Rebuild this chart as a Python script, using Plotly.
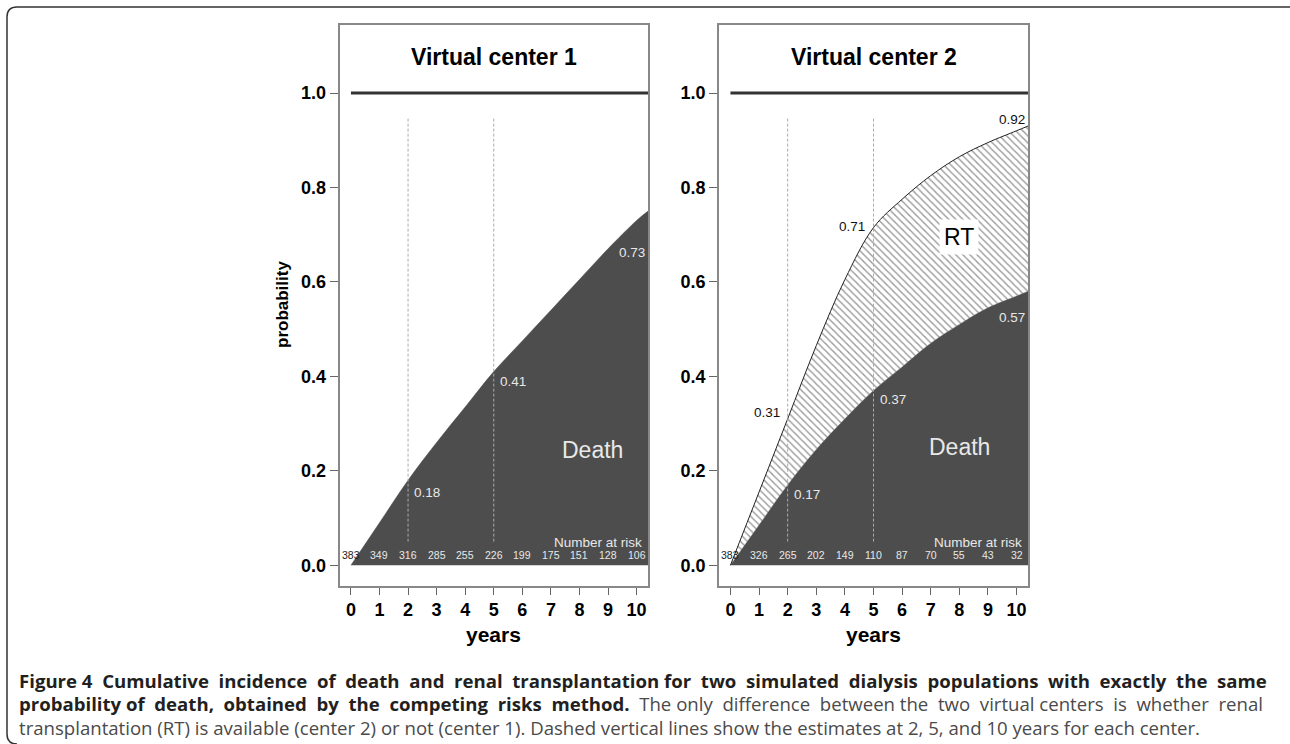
import plotly.graph_objects as go

# ---------------- data ----------------
years = [0, 1, 2, 3, 4, 5, 6, 7, 8, 9, 10, 10.4]
c1_death = [0, 0.09, 0.18, 0.26, 0.335, 0.41, 0.475, 0.54, 0.605, 0.67, 0.73, 0.75]
c2_death = [0, 0.085, 0.17, 0.245, 0.31, 0.37, 0.42, 0.47, 0.51, 0.545, 0.57, 0.58]
c2_death_rt = [0, 0.155, 0.31, 0.465, 0.605, 0.715, 0.775, 0.825, 0.865, 0.895, 0.92, 0.93]

risk_years = [0, 1, 2, 3, 4, 5, 6, 7, 8, 9, 10]
c1_risk = [383, 349, 316, 285, 255, 226, 199, 175, 151, 128, 106]
c2_risk = [383, 326, 265, 202, 149, 110, 87, 70, 55, 43, 32]

est_years = [2, 5, 10]
c1_est = [0.18, 0.41, 0.73]
c2_est_death = [0.17, 0.37, 0.57]
c2_est_total = [0.31, 0.71, 0.92]

x_ticks = list(range(11))
y_ticks = [0.0, 0.2, 0.4, 0.6, 0.8, 1.0]

titles = ["Virtual center 1", "Virtual center 2"]

caption1 = "Figure 4 Cumulative incidence of death and renal transplantation for two simulated dialysis populations with exactly the same"
caption2b = "probability of death, obtained by the competing risks method."
caption2r = "The only difference between the two virtual centers is whether renal"
caption3 = "transplantation (RT) is available (center 2) or not (center 1). Dashed vertical lines show the estimates at 2, 5, and 10 years for each center."

# ---------------- styling ----------------
W, H = 1290, 744
FONT = "Liberation Sans, Arial, Helvetica, sans-serif"
DARK = "#4d4d4d"
LIGHT = "#e8e8e8"


def px_x(p):
    return p / W


def px_y(p):
    return 1 - p / H


def justify(text, n_extra):
    """widen word gaps (evenly spread) with an extra no-break space to mimic justified text"""
    words = text.split(" ")
    n = len(words) - 1
    out = words[0]
    for k, w in enumerate(words[1:]):
        wide = (k + 1) * n_extra // n > k * n_extra // n
        out += (" \u00a0" if wide else " ") + w
    return out


xdom1 = [px_x(339.5), px_x(648)]
xdom2 = [px_x(719), px_x(1028)]
ydom = [px_y(586), px_y(25)]
XR = [-0.4, 10.4]
YR = [-0.044, 1.144]

fig = go.Figure()

# left panel
fig.add_trace(go.Scatter(x=years, y=c1_death, mode="lines", fill="tozeroy",
                         fillcolor=DARK, line=dict(color=DARK, width=0.5, shape="spline"),
                         xaxis="x", yaxis="y", hoverinfo="skip", showlegend=False))
# right panel
fig.add_trace(go.Scatter(x=years, y=c2_death, mode="lines", fill="tozeroy",
                         fillcolor=DARK, line=dict(color=DARK, width=0.5, shape="spline"),
                         xaxis="x2", yaxis="y2", hoverinfo="skip", showlegend=False))
fig.add_trace(go.Scatter(x=years, y=c2_death_rt, mode="lines", fill="tonexty",
                         fillpattern=dict(shape="\\", fgcolor="#333333", bgcolor="white",
                                          size=5, solidity=0.28),
                         line=dict(color="#222222", width=1, shape="spline"),
                         xaxis="x2", yaxis="y2", hoverinfo="skip", showlegend=False))

axis_common = dict(range=XR, showgrid=False, zeroline=False, showline=True, mirror=True,
                   linecolor="#888888", linewidth=1.5, ticks="outside", ticklen=7,
                   tickcolor="#666666", tickvals=x_ticks,
                   ticktext=[f"<b>{t}</b>" for t in x_ticks],
                   tickfont=dict(family=FONT, size=18, color="black"))
yaxis_common = dict(range=YR, domain=ydom, showgrid=False, zeroline=False, showline=True,
                    mirror=True, linecolor="#888888", linewidth=1.5, ticks="outside",
                    ticklen=8, tickcolor="#666666", tickvals=y_ticks,
                    ticktext=[f"<b>{t:.1f}</b>" for t in y_ticks],
                    tickfont=dict(family=FONT, size=18, color="black"))

fig.update_layout(
    xaxis=dict(domain=xdom1, anchor="y", **axis_common),
    yaxis=dict(anchor="x", **yaxis_common),
    xaxis2=dict(domain=xdom2, anchor="y2", **axis_common),
    yaxis2=dict(anchor="x2", **yaxis_common),
)

shapes = []
annotations = []
C = dict(xanchor="center", yanchor="middle", showarrow=False)
for i, (xr, yr) in enumerate([("x", "y"), ("x2", "y2")]):
    # total probability line
    shapes.append(dict(type="line", xref=xr, yref=yr, x0=0, x1=10.4, y0=1, y1=1,
                       line=dict(color="#333333", width=3), layer="above"))
    # dashed estimate lines
    for xv in est_years[:2]:
        shapes.append(dict(type="line", xref=xr, yref=yr, x0=xv, x1=xv, y0=0.05, y1=0.95,
                           line=dict(color="#aaaaaa", width=1, dash="3px,2px"), layer="above"))
    # panel titles
    annotations.append(dict(text=f"<b>{titles[i]}</b>", xref=xr, yref="paper", x=5, y=px_y(57),
                            font=dict(family=FONT, size=23, color="black"), **C))
    # x axis title
    annotations.append(dict(text="<b>years</b>", xref=xr, yref="paper", x=5, y=px_y(634),
                            font=dict(family=FONT, size=21, color="black"), **C))
    # Number at risk
    annotations.append(dict(text="Number at risk", xref=xr, yref=yr, x=10.25, y=0.048,
                            xanchor="right", yanchor="middle", showarrow=False,
                            font=dict(family=FONT, size=13.5, color=LIGHT)))
    risks = c1_risk if i == 0 else c2_risk
    for xv, n in zip(risk_years, risks):
        annotations.append(dict(text=str(n), xref=xr, yref=yr, x=xv, y=0.021,
                                font=dict(family=FONT, size=10.5,
                                          color="#222222" if xv == 0 else LIGHT), **C))
    # Death label
    annotations.append(dict(text="Death", xref=xr, yref=yr, x=8.45 if i == 0 else 8.0,
                            y=0.245 if i == 0 else 0.25,
                            font=dict(family=FONT, size=23, color=LIGHT), **C))

# y axis title
annotations.append(dict(text="<b>probability</b>", xref="paper", yref="paper", x=px_x(282),
                        y=px_y(305), textangle=-90,
                        font=dict(family=FONT, size=17, color="black"), **C))

lab = dict(showarrow=False, yanchor="middle", font=dict(family=FONT, size=13.5, color=LIGHT))
# left estimates
annotations.append(dict(text=f"{c1_est[0]:.2f}", xref="x", yref="y", x=est_years[0] + 0.15, y=0.155, xanchor="left", **lab))
annotations.append(dict(text=f"{c1_est[1]:.2f}", xref="x", yref="y", x=est_years[1] + 0.15, y=0.39, xanchor="left", **lab))
annotations.append(dict(text=f"{c1_est[2]:.2f}", xref="x", yref="y", x=est_years[2] + 0.35, y=0.662, xanchor="right", **lab))
# right estimates death
annotations.append(dict(text=f"{c2_est_death[0]:.2f}", xref="x2", yref="y2", x=est_years[0] + 0.15, y=0.15, xanchor="left", **lab))
annotations.append(dict(text=f"{c2_est_death[1]:.2f}", xref="x2", yref="y2", x=est_years[1] + 0.15, y=0.351, xanchor="left", **lab))
annotations.append(dict(text=f"{c2_est_death[2]:.2f}", xref="x2", yref="y2", x=est_years[2] + 0.35, y=0.524, xanchor="right", **lab))
# right estimates total
labk = dict(showarrow=False, yanchor="middle", font=dict(family=FONT, size=13.5, color="#111111"))
annotations.append(dict(text=f"{c2_est_total[0]:.2f}", xref="x2", yref="y2", x=est_years[0] - 0.2, y=0.323, xanchor="right", **labk))
annotations.append(dict(text=f"{c2_est_total[1]:.2f}", xref="x2", yref="y2", x=est_years[1] - 0.22, y=0.717, xanchor="right", **labk))
annotations.append(dict(text=f"{c2_est_total[2]:.2f}", xref="x2", yref="y2", x=est_years[2] + 0.35, y=0.943, xanchor="right", **labk))
# RT label
annotations.append(dict(text="RT", xref="x2", yref="y2", x=8.0, y=0.696,
                        bgcolor="white", borderpad=4,
                        font=dict(family=FONT, size=23, color="black"), **C))

# caption
CAP = "Open Sans, Noto Sans, sans-serif"
CAPSIZE = 18.6
capd = dict(xref="paper", yref="paper", x=px_x(17), xanchor="left", yanchor="middle", showarrow=False)
annotations.append(dict(text=f"<b>{justify(caption1, 15)}</b>", y=px_y(680),
                        font=dict(family=CAP, size=CAPSIZE, color="#231f20"), **capd))
annotations.append(dict(text=f"<b>{justify(caption2b, 7)}</b> \u00a0<span style='color:#4a4a4a'>{justify(caption2r, 7)}</span>",
                        y=px_y(703), font=dict(family=CAP, size=CAPSIZE, color="#231f20"), **capd))
annotations.append(dict(text=caption3, y=px_y(727),
                        font=dict(family=CAP, size=CAPSIZE, color="#4a4a4a"), **capd))

# outer frame (top and left edges with rounded corners)
r = 10
x_l, y_t, y_b = 7, 7, 744
frame = (f"M {px_x(W)},{px_y(y_t)} L {px_x(x_l + r)},{px_y(y_t)} "
         f"Q {px_x(x_l)},{px_y(y_t)} {px_x(x_l)},{px_y(y_t + r)} "
         f"L {px_x(x_l)},{px_y(y_b - r)} Q {px_x(x_l)},{px_y(y_b)} {px_x(x_l + r)},{px_y(y_b)}")
shapes.append(dict(type="path", xref="paper", yref="paper", path=frame,
                   line=dict(color="#333333", width=1.5)))

fig.update_layout(width=W, height=H, margin=dict(l=0, r=0, t=0, b=0),
                  paper_bgcolor="white", plot_bgcolor="white",
                  shapes=shapes, annotations=annotations, showlegend=False)

fig.write_html("out.html", config={"displayModeBar": False},
               post_script="document.body.style.margin='0';document.body.style.overflow='hidden';")
